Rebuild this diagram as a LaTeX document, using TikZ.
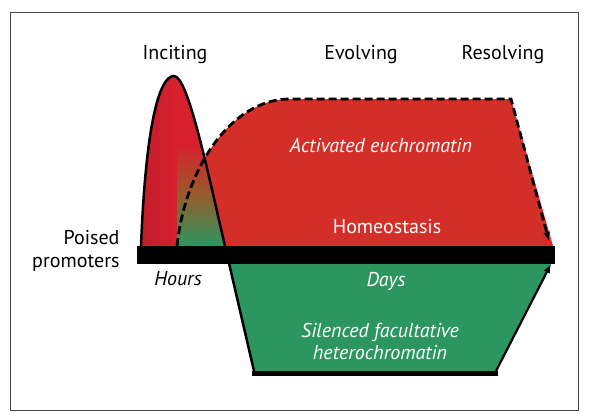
\documentclass[tikz,border=0pt]{standalone}
\usepackage{fontspec}
\setmainfont{PT Sans}
\usepackage{xcolor}
\usepackage{tikz}
\usetikzlibrary{arrows.meta}
\definecolor{euchred}{RGB}{212, 46, 40}
\definecolor{peakred}{RGB}{216, 32, 46}
\definecolor{darkred}{RGB}{186, 28, 42}
\definecolor{midbrown}{RGB}{150, 92, 44}
\definecolor{hetgreen}{RGB}{44, 150, 96}
\definecolor{framegray}{RGB}{70, 70, 70}

\begin{document}
\begin{tikzpicture}[x=1pt, y=-1pt,
  phaselabel/.style={font=\fontsize{20}{24}\selectfont, text=black},
  statelabel/.style={font=\fontsize{20}{22}\selectfont\itshape, text=white, align=center},
  timelabel/.style={font=\fontsize{20}{22}\selectfont\itshape},
  outline/.style={line width=2.5pt, color=black, line join=round},
  dashedge/.style={line width=2.8pt, dash pattern=on 8pt off 4pt, -{Latex[length=9pt,width=7pt]}},
  solidedge/.style={line width=2.2pt, -{Latex[length=9pt,width=7pt]}}
]
\useasboundingbox (0,0) rectangle (589,420);

% Frame
\draw[framegray, line width=0.8pt] (10,12) rectangle (578,410);

% Key points
\coordinate (peakL) at (141,246);
\coordinate (peakT) at (174,76);
\coordinate (peakR) at (225,246);
\coordinate (dashS) at (177,246);
\coordinate (plateauL) at (290,99);
\coordinate (plateauR) at (511,99);
\coordinate (redEnd) at (553,246);
\coordinate (greenL) at (254,371);
\coordinate (greenR) at (496,371);
\coordinate (greenEnd) at (551,264);

% Activated euchromatin region
\fill[euchred] (dashS) .. controls (185,170) and (230,99) .. (plateauL) -- (plateauR) -- (redEnd) -- cycle;

% Silenced heterochromatin region
\fill[hetgreen] (229,262) -- (greenL) -- (greenR) -- (greenEnd) -- cycle;

% Inciting peak
\begin{scope}
  \clip (peakL) .. controls (146,120) and (160,76) .. (peakT) .. controls (188,76) and (207.6,171.6) .. (peakR) -- cycle;
  \shade[left color=darkred, right color=peakred] (130,60) rectangle (177,250);
  \fill[peakred] (177,60) rectangle (240,145);
  \shade[top color=peakred, bottom color=hetgreen, middle color=midbrown] (177,144.5) rectangle (240,246);
\end{scope}

% Edges
\draw[dashedge] (dashS) .. controls (185,170) and (230,99) .. (plateauL) -- (plateauR) -- (549,241);
\draw[outline] (peakL) .. controls (146,120) and (160,76) .. (peakT) .. controls (188,76) and (207.6,171.6) .. (peakR) -- (greenL);
\draw[line width=5pt] (252,373) -- (498,373);
\draw[solidedge] (greenR) -- (greenEnd);

% Chromatin baseline
\fill[black] (137,246) rectangle (555,264);

% Labels
\node[phaselabel] (inciting) at (175,55) {Inciting};
\node[phaselabel] (evolving) at (361,55) {Evolving};
\node[phaselabel] (resolving) at (503,55) {Resolving};
\node[phaselabel, align=right, anchor=east, font=\fontsize{20}{23}\selectfont] (poised) at (123,251) {Poised\\promoters};
\node[timelabel] (hours) at (178,279) {Hours};
\node[statelabel] (activated) at (381,146) {Activated euchromatin};
\node[statelabel, font=\fontsize{20}{22}\selectfont] (homeo) at (387,227) {Homeostasis};
\node[statelabel] (days) at (386,281) {Days};
\node[statelabel] (silenced) at (380,341) {Silenced facultative\\heterochromatin};

\end{tikzpicture}
\end{document}
